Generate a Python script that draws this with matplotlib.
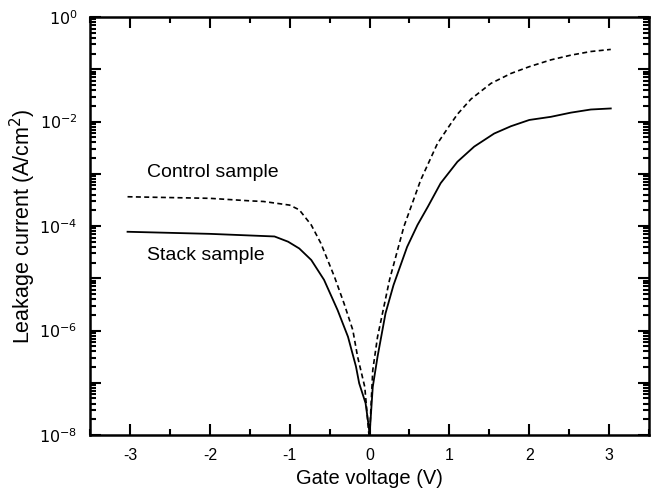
import numpy as np
import matplotlib
matplotlib.use("Agg")
import matplotlib.pyplot as plt
from matplotlib.ticker import LogLocator, FixedLocator, MultipleLocator, NullFormatter

plt.rcParams["font.family"] = ["Liberation Sans", "DejaVu Sans"]

# Control sample (dashed) - log10 of leakage current
control_v = [-3.03, -2.0, -1.48, -1.33, -1.0, -0.88, -0.73, -0.61, -0.44, -0.32,
             -0.21, -0.15, -0.06, -0.01, 0.0,
             0.02, 0.04, 0.10, 0.25, 0.43, 0.64, 0.85, 1.0, 1.10, 1.27, 1.52,
             1.77, 2.0, 2.27, 2.52, 2.77, 3.02]
control_log = [-3.44, -3.47, -3.52, -3.53, -3.60, -3.69, -3.98, -4.33, -4.97, -5.48,
               -5.99, -6.50, -7.08, -7.96, -8.0,
               -7.39, -6.76, -6.12, -5.03, -4.01, -3.12, -2.42, -2.08, -1.86, -1.57, -1.27,
               -1.08, -0.95, -0.82, -0.73, -0.66, -0.62]

# Stack sample (solid)
stack_v = [-3.03, -2.0, -1.19, -1.02, -0.88, -0.73, -0.57, -0.40, -0.27, -0.17,
           -0.13, -0.05, -0.01, 0.0,
           0.04, 0.10, 0.20, 0.30, 0.47, 0.60, 0.73, 0.89, 1.10, 1.31, 1.56,
           1.77, 2.0, 2.27, 2.52, 2.77, 3.02]
stack_log = [-4.11, -4.15, -4.20, -4.30, -4.43, -4.65, -5.03, -5.61, -6.12, -6.69,
             -7.01, -7.39, -7.84, -8.0,
             -7.08, -6.50, -5.67, -5.13, -4.40, -3.98, -3.63, -3.18, -2.77, -2.48, -2.23,
             -2.09, -1.97, -1.91, -1.83, -1.77, -1.75]

x_ticks = [-3, -2, -1, 0, 1, 2, 3]
y_exps = list(range(-8, 1))
y_label_exps = [0, -2, -4, -6, -8]

fig = plt.figure(figsize=(6.57, 4.95), dpi=100)
ax = fig.add_axes([0.137, 0.1212, 0.851, 0.8444])

ax.plot(control_v, 10.0 ** np.array(control_log), color="black", lw=1.2,
        dashes=(3, 2))
ax.plot(stack_v, 10.0 ** np.array(stack_log), color="black", lw=1.3)

ax.set_yscale("log")
ax.set_xlim(-3.5, 3.5)
ax.set_ylim(1e-8, 1e0)

ax.xaxis.set_major_locator(FixedLocator(x_ticks))
ax.xaxis.set_minor_locator(MultipleLocator(0.5))
ax.set_xticklabels([str(t) for t in x_ticks])

ax.set_yticks([10.0 ** e for e in y_exps])
ax.set_yticklabels([f"$10^{{{e}}}$" if e in y_label_exps else "" for e in y_exps])
ax.yaxis.set_minor_locator(LogLocator(base=10, subs=np.arange(2, 10), numticks=20))
ax.yaxis.set_minor_formatter(NullFormatter())

ax.tick_params(which="both", direction="in", top=True, right=True,
               width=1.5, labelsize=11.5)
ax.tick_params(which="major", length=8, pad=9)
ax.tick_params(which="minor", length=4.5)
for s in ax.spines.values():
    s.set_linewidth(1.8)

ax.set_xlabel("Gate voltage (V)", fontsize=14.5, labelpad=5)
ax.set_ylabel("Leakage current (A/cm$^2$)", fontsize=15.5)
ax.yaxis.set_label_coords(-0.093, 0.5)

ax.text(-2.79, 10 ** -2.97, "Control sample", fontsize=14, va="center")
ax.text(-2.79, 10 ** -4.57, "Stack sample", fontsize=14, va="center")

fig.savefig("out.png", dpi=100)
